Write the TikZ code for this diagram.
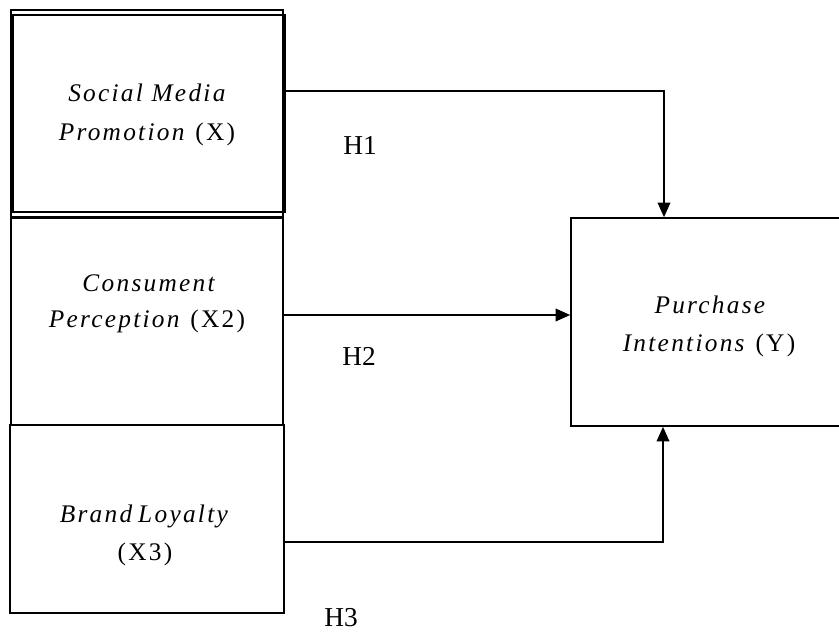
\documentclass[tikz,border=0pt]{standalone}
\usepackage{fontspec}
\setmainfont{Liberation Serif}
\usetikzlibrary{arrows.meta,fit}
\begin{document}
\begin{tikzpicture}[x=0.75pt,y=-0.75pt,
  box/.style={draw, line width=1.2pt, inner sep=0pt, rectangle},
  boxthick/.style={draw, line width=2pt, inner sep=0pt, rectangle},
  txt/.style={font=\fontsize{19}{22}\selectfont\addfontfeature{LetterSpace=9}, anchor=base, inner sep=0pt},
  hl/.style={font=\fontsize{20.5}{24}\selectfont, anchor=base west, inner sep=0pt},
  conn/.style={line width=1.3pt, -{Triangle[length=11pt,width=9.5pt]}}]
\clip (0,0) rectangle (839,635);
% left boxes
\node[box, fit={(11,10)(283,217)}] (b1) {};
\node[boxthick, fit={(13,15)(285,212)}] (b1in) {};
\node[box, fit={(11,218)(283,425)}] (b2) {};
\node[box, fit={(10,425)(284,613)}] (b3) {};
% right box (cut off by the page edge)
\node[box, fit={(571,218)(850,426)}] (pi) {};
% texts
\node[txt] (t1a) at (148,102) {\textit{Social Media}};
\node[txt] (t1b) at (147,140) {\textit{Promotion} (X)};
\node[txt] (t2a) at (150,291) {\textit{Consument}};
\node[txt] (t2b) at (147,327) {\textit{Perception} (X2)};
\node[txt] (t3a) at (145,522) {\textit{Brand\hspace{-2pt} Loyalty}};
\node[txt] (t3b) at (145,560) {(X3)};
\node[txt] (tya) at (711,313) {\textit{Purchase}};
\node[txt] (tyb) at (709,351) {\textit{Intentions} (Y)};
% hypothesis labels
\node[hl] (h1) at (343,154) {H1};
\node[hl] (h2) at (342,365) {H2};
\node[hl] (h3) at (324,626) {H3};
% routing coordinates
\coordinate (y1) at (0,91);
\coordinate (y2) at (0,315);
\coordinate (y3) at (0,542);
\coordinate (x1) at (664,0);
\coordinate (x3) at (663,0);
% connectors
\draw[conn] (b1in.east |- y1) -| (x1 |- pi.north);
\draw[conn] (b2.east |- y2) -- (pi.west |- y2);
\draw[conn] (b3.east |- y3) -| (x3 |- pi.south);
\end{tikzpicture}
\end{document}
